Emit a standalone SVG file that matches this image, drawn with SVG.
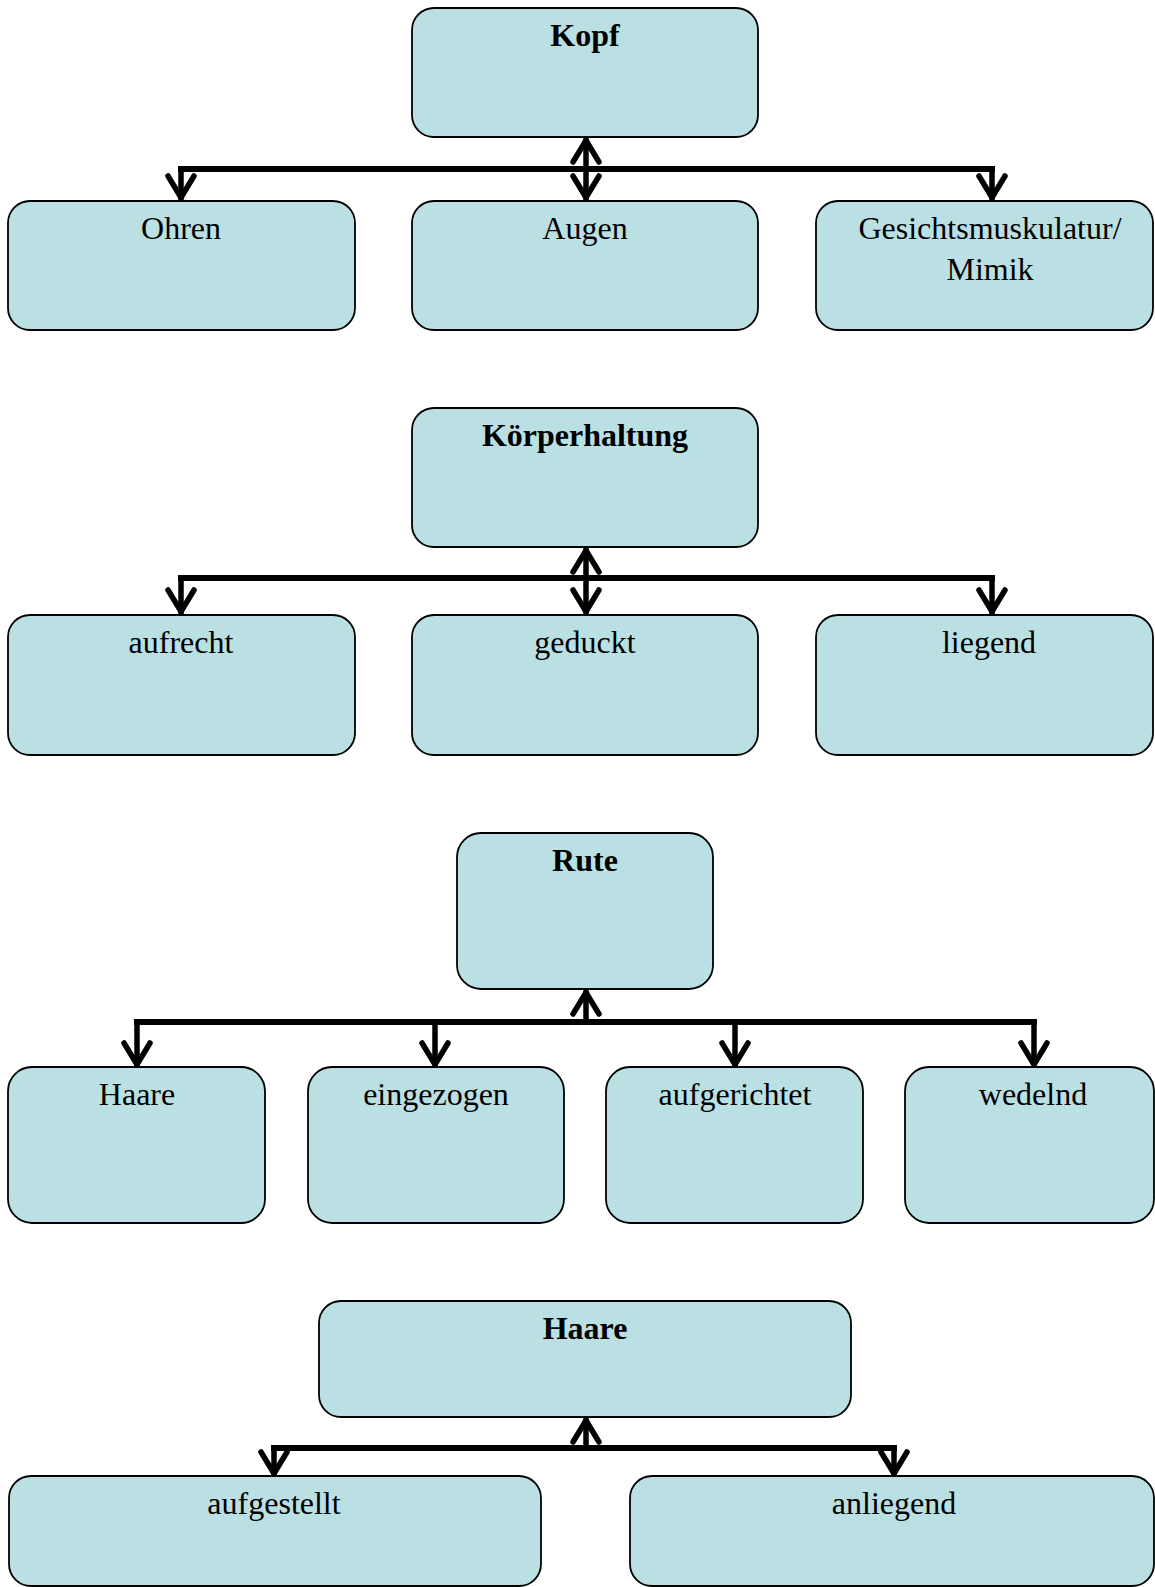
<svg xmlns="http://www.w3.org/2000/svg" width="1155" height="1587" viewBox="0 0 1155 1587">
  <style>
    .box { fill: #BBE0E3; stroke: #000; stroke-width: 1.8; }
    .label { font-family: "Liberation Serif", "Times New Roman", serif; font-size: 32px; fill: #000; text-anchor: middle; }
    .title { font-weight: bold; }
    .link { fill: none; stroke: #000; stroke-width: 5.5; stroke-linecap: butt; }
    .bar { fill: none; stroke: #000; stroke-width: 6; stroke-linecap: square; }
  </style>
  <defs>
    <!-- open chevron arrowhead, drawn in user units -->
    <marker id="head" markerUnits="userSpaceOnUse" viewBox="-30 -18 34 36" refX="0" refY="0" markerWidth="34" markerHeight="36" orient="auto-start-reverse" overflow="visible">
      <path d="M-24,-13 L-2.5,0 L-24,13" fill="none" stroke="#000" stroke-width="5.5" stroke-linecap="round" stroke-linejoin="round"/>
    </marker>
  </defs>

  <!-- Kopf -->
  <g id="kopf"><rect class="box" x="412" y="8" width="346" height="129" rx="22"/><text class="label title" x="585" y="46">Kopf</text></g>
  <g id="ohren"><rect class="box" x="8" y="201" width="347" height="129" rx="22"/><text class="label" x="181" y="239">Ohren</text></g>
  <g id="augen"><rect class="box" x="412" y="201" width="346" height="129" rx="22"/><text class="label" x="585" y="239">Augen</text></g>
  <g id="gesicht"><rect class="box" x="816" y="201" width="337" height="129" rx="22"/><text class="label" x="990" y="239">Gesichtsmuskulatur/</text><text class="label" x="990" y="280">Mimik</text></g>

  <!-- Körperhaltung -->
  <g id="koerperhaltung"><rect class="box" x="412" y="408" width="346" height="139" rx="22"/><text class="label title" x="585" y="446">Körperhaltung</text></g>
  <g id="aufrecht"><rect class="box" x="8" y="615" width="347" height="140" rx="22"/><text class="label" x="181" y="653">aufrecht</text></g>
  <g id="geduckt"><rect class="box" x="412" y="615" width="346" height="140" rx="22"/><text class="label" x="585" y="653">geduckt</text></g>
  <g id="liegend"><rect class="box" x="816" y="615" width="337" height="140" rx="22"/><text class="label" x="989" y="653">liegend</text></g>

  <!-- Rute -->
  <g id="rute"><rect class="box" x="457" y="833" width="256" height="156" rx="24"/><text class="label title" x="585" y="871">Rute</text></g>
  <g id="rute-haare"><rect class="box" x="8" y="1067" width="257" height="156" rx="24"/><text class="label" x="137" y="1105">Haare</text></g>
  <g id="eingezogen"><rect class="box" x="308" y="1067" width="256" height="156" rx="24"/><text class="label" x="436" y="1105">eingezogen</text></g>
  <g id="aufgerichtet"><rect class="box" x="606" y="1067" width="257" height="156" rx="24"/><text class="label" x="735" y="1105">aufgerichtet</text></g>
  <g id="wedelnd"><rect class="box" x="905" y="1067" width="249" height="156" rx="24"/><text class="label" x="1033" y="1105">wedelnd</text></g>

  <!-- Haare -->
  <g id="haare"><rect class="box" x="319" y="1301" width="532" height="116" rx="22"/><text class="label title" x="585" y="1339">Haare</text></g>
  <g id="aufgestellt"><rect class="box" x="9" y="1476" width="532" height="110" rx="22"/><text class="label" x="274" y="1514">aufgestellt</text></g>
  <g id="anliegend"><rect class="box" x="630" y="1476" width="524" height="110" rx="22"/><text class="label" x="894" y="1514">anliegend</text></g>

  <g id="connectors">
    <!-- Kopf -->
    <line class="bar" x1="181" y1="169" x2="992" y2="169"/>
    <line class="link" x1="586" y1="138" x2="586" y2="200" marker-start="url(#head)" marker-end="url(#head)"/>
    <line class="link" x1="181" y1="169" x2="181" y2="200" marker-end="url(#head)"/>
    <line class="link" x1="992" y1="169" x2="992" y2="200" marker-end="url(#head)"/>

    <!-- Körperhaltung -->
    <line class="bar" x1="181" y1="578" x2="992" y2="578"/>
    <line class="link" x1="586" y1="548" x2="586" y2="614" marker-start="url(#head)" marker-end="url(#head)"/>
    <line class="link" x1="181" y1="578" x2="181" y2="614" marker-end="url(#head)"/>
    <line class="link" x1="992" y1="578" x2="992" y2="614" marker-end="url(#head)"/>

    <!-- Rute -->
    <line class="bar" x1="137" y1="1022" x2="1034" y2="1022"/>
    <line class="link" x1="586" y1="1022" x2="586" y2="990" marker-end="url(#head)"/>
    <line class="link" x1="137" y1="1022" x2="137" y2="1067" marker-end="url(#head)"/>
    <line class="link" x1="435" y1="1022" x2="435" y2="1067" marker-end="url(#head)"/>
    <line class="link" x1="735" y1="1022" x2="735" y2="1067" marker-end="url(#head)"/>
    <line class="link" x1="1034" y1="1022" x2="1034" y2="1067" marker-end="url(#head)"/>

    <!-- Haare -->
    <line class="bar" x1="274" y1="1448" x2="894" y2="1448"/>
    <line class="link" x1="586" y1="1448" x2="586" y2="1418" marker-end="url(#head)"/>
    <line class="link" x1="274" y1="1448" x2="274" y2="1476" marker-end="url(#head)"/>
    <line class="link" x1="894" y1="1448" x2="894" y2="1476" marker-end="url(#head)"/>
  </g>
</svg>
